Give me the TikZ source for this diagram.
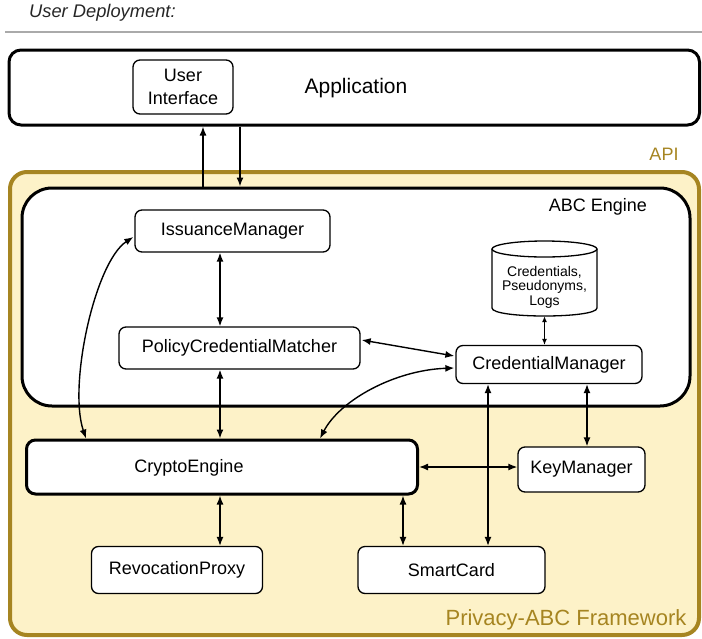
\documentclass[tikz,border=0pt]{standalone}
\usepackage{fontspec}
\setmainfont{Liberation Sans}
\usetikzlibrary{arrows.meta,calc}
\definecolor{fwgold}{RGB}{166,133,33}
\definecolor{fwfill}{RGB}{253,242,200}
\definecolor{rulegray}{RGB}{170,170,170}
\tikzset{
  comp/.style={draw=black, line width=1.3pt, rounded corners=7pt, fill=white,
    inner sep=0pt, font=\fontsize{18}{21}\selectfont},
  heavybox/.style={draw=black, line width=3pt, fill=white, inner sep=0pt},
  tip/.tip={Latex[length=9pt,width=7pt]},
  smalltip/.tip={Latex[length=6pt,width=5pt]},
  link/.style={line width=1.4pt, tip-tip},
  uplink/.style={line width=1.4pt, -tip},
  smalllink/.style={line width=1pt, smalltip-smalltip},
}
\begin{document}
\begin{tikzpicture}[x=1pt,y=-1pt]
\useasboundingbox (0,0) rectangle (702,638);

% heading and rule
\node[anchor=west, font=\fontsize{18.3}{21}\selectfont\itshape, text=black!85, inner sep=0pt]
  (heading) at (29,13) {User Deployment:};
\draw[rulegray, line width=1.2pt] (5,32) -- (702,32);

% application layer
\node[heavybox, rounded corners=12pt, minimum width=690.5pt, minimum height=75pt]
  (app) at (354.25,87.5) {};
\node[font=\fontsize{21}{24}\selectfont, inner sep=0pt] (applabel) at (356,88) {Application};
\node[comp, minimum width=100pt, minimum height=54pt, align=center,
  font=\fontsize{18}{23}\selectfont] (ui) at (183,87) {User\\Interface};

% framework
\node[draw=fwgold, fill=fwfill, line width=4pt, rounded corners=17pt,
  minimum width=689pt, minimum height=463pt, inner sep=0pt] (fw) at (354.5,403.5) {};
\node[text=fwgold, font=\fontsize{18}{21}\selectfont, inner sep=0pt] (api) at (664,154) {API};
\node[text=fwgold, font=\fontsize{22}{26}\selectfont, inner sep=0pt] (fwlabel) at (566,620) {Privacy-ABC Framework};

% ABC engine
\node[heavybox, rounded corners=30pt, minimum width=668pt, minimum height=218pt]
  (abc) at (356,297) {};
\node[font=\fontsize{18}{21}\selectfont, inner sep=0pt] (abclabel) at (598,207) {ABC Engine};

% credential store
\fill[white] (492,249) -- (492,308) .. controls (492,318.67) and (597,318.67) .. (597,308)
  -- (597,249) -- cycle;
\draw[line width=1.3pt] (492,249) -- (492,308) .. controls (492,318.67) and (597,318.67) .. (597,308)
  -- (597,249);
\draw[line width=1.3pt, fill=white] (544.5,249) ellipse [x radius=52.5, y radius=8];
\node[align=center, inner sep=0pt, minimum height=58pt, font=\fontsize{14}{14.5}\selectfont]
  (db) at (544.5,287) {Credentials,\\Pseudonyms,\\Logs};

% components
\node[comp, minimum width=195pt, minimum height=42pt] (im) at (232.5,231) {IssuanceManager};
\node[comp, minimum width=241pt, minimum height=42pt] (pcm) at (239.5,348) {PolicyCredentialMatcher};
\node[comp, minimum width=186pt, minimum height=38pt] (cm) at (549,364.5) {CredentialManager};
\node[heavybox, rounded corners=9pt, minimum width=391pt, minimum height=54pt] (ce) at (222,467) {};
\node[font=\fontsize{18}{21}\selectfont, inner sep=0pt] (celabel) at (189,468) {CryptoEngine};
\node[comp, minimum width=127pt, minimum height=45pt] (km) at (581.5,469.5) {KeyManager};
\node[comp, minimum width=171pt, minimum height=47pt] (rp) at (177,570) {RevocationProxy};
\node[comp, minimum width=187pt, minimum height=47pt] (sc) at (451.5,570) {SmartCard};

% API calls between application and engine
\coordinate (upx) at ($(abc.north)+(-153,0)$);
\coordinate (downx) at ($(abc.north)+(-116,0)$);
\draw[uplink] (upx) -- (upx |- app.south);
\draw[uplink] (downx |- app.south) -- (downx);

% links inside the framework
\coordinate (imx) at ($(im.south)+(-12.5,0)$);
\draw[link] (imx) -- (imx |- pcm.north);
\coordinate (pcmx) at ($(pcm.south)+(-19.5,0)$);
\draw[link] (pcmx) -- (pcmx |- ce.north);
\draw[link] ($(pcm.east)+(1,-8)$) -- ($(cm.west)+(-1,-8.5)$);
\draw[smalllink] (db.south) -- (db.south |- cm.north);
\coordinate (cmsc) at ($(cm.south)+(-61,0)$);
\draw[link] (cmsc) -- (cmsc |- sc.north);
\coordinate (cmkm) at ($(cm.south)+(38,0)$);
\draw[link] (cmkm) -- (cmkm |- km.north);
\draw[link] (ce.east) -- (ce.east -| km.west);
\coordinate (cerp) at ($(ce.south)+(-2,0)$);
\draw[link] (cerp) -- (cerp |- rp.north);
\coordinate (cesc) at ($(sc.north)+(-48.5,0)$);
\draw[link] (cesc |- ce.south) -- (cesc);
\draw[link] ($(im.west)+(-1,6)$) .. controls (95,262) and (68,385) .. ($(ce.north west)+(61,0)$);
\draw[link] ($(cm.west)+(-1,3.5)$) .. controls (395,370) and (340,400) .. ($(ce.north west)+(295,0)$);
\end{tikzpicture}
\end{document}
